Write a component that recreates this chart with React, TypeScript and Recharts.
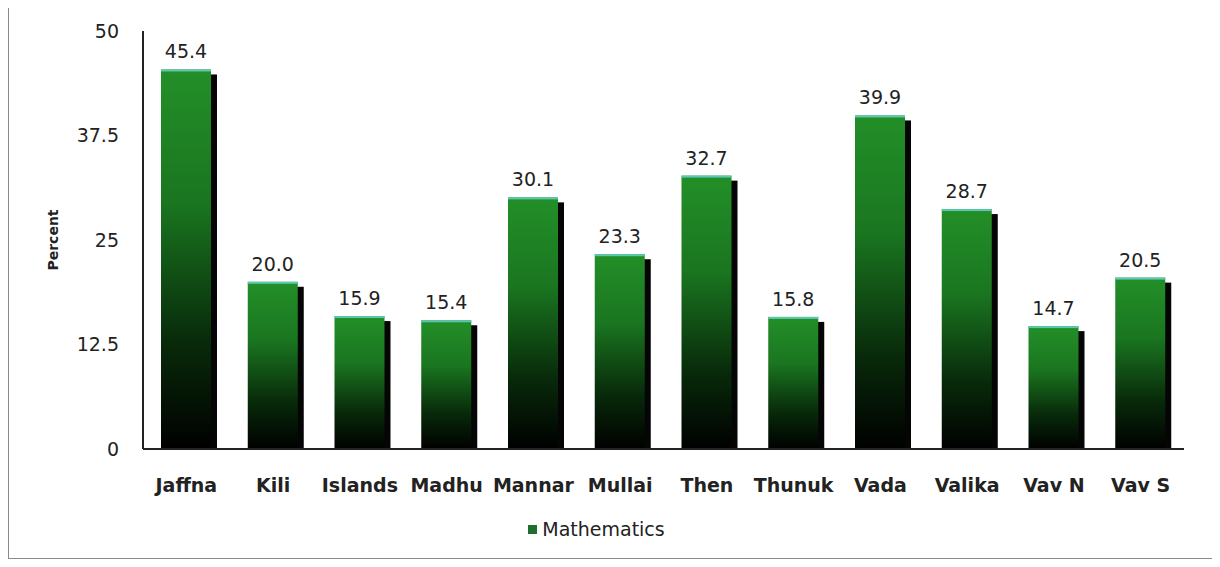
import React from "react";
import { BarChart, Bar, XAxis, YAxis, LabelList, Legend } from "recharts";

const districts = ["Jaffna", "Kili", "Islands", "Madhu", "Mannar", "Mullai", "Then", "Thunuk", "Vada", "Valika", "Vav N", "Vav S"];
const mathematics = [45.4, 20.0, 15.9, 15.4, 30.1, 23.3, 32.7, 15.8, 39.9, 28.7, 14.7, 20.5];
const yTicks = [0, 12.5, 25, 37.5, 50];

const data = districts.map((d, i) => ({ district: d, value: mathematics[i] }));

const FONT = "'DejaVu Sans', Verdana, sans-serif";

const ShadowBar = (props: any) => {
  const { x, y, width, height } = props;
  if (!height || height <= 0) return null;
  return (
    <g>
      <rect x={x + 6} y={y + 5} width={width} height={Math.max(0, height - 5)} fill="#050505" />
      <rect x={x} y={y} width={width} height={height} fill="url(#mathGrad)" />
      <rect x={x} y={y} width={width} height={2} fill="#5cc8b0" />
    </g>
  );
};

const LegendContent = () => (
  <div style={{ height: 40, display: "flex", justifyContent: "center", alignItems: "center", fontFamily: FONT, fontSize: 19, color: "#222" }}>
    <span style={{ display: "inline-block", width: 9, height: 9, background: "#1e6e30", marginRight: 5 }} />
    Mathematics
  </div>
);

export default function App() {
  return (
    <div style={{ width: 1205, height: 552, border: "1px solid #8a8a8a", marginTop: -3, position: "relative", background: "#fff" }}>
      <BarChart
        width={1205}
        height={552}
        data={data}
        margin={{ top: 25, right: 30, left: 0, bottom: 9 }}
        barSize={50}
      >
        <defs>
          <linearGradient id="mathGrad" x1="0" y1="0" x2="0" y2="1">
            <stop offset="0%" stopColor="#238f28" />
            <stop offset="35%" stopColor="#1a7620" />
            <stop offset="72%" stopColor="#082a0a" />
            <stop offset="100%" stopColor="#000000" />
          </linearGradient>
        </defs>
        <XAxis
          dataKey="district"
          height={60}
          tickLine={false}
          tickSize={0}
          tickMargin={30}
          axisLine={{ stroke: "#222", strokeWidth: 2 }}
          tick={{ fontFamily: FONT, fontSize: 19, fontWeight: "bold", fill: "#222" }}
          interval={0}
        />
        <YAxis
          width={134}
          domain={[0, 50]}
          ticks={yTicks}
          tickLine={false}
          tickSize={0}
          tickMargin={24}
          axisLine={{ stroke: "#222", strokeWidth: 2 }}
          tick={{ fontFamily: FONT, fontSize: 19, fill: "#222" }}
          label={{ value: "Percent", angle: -90, position: "insideLeft", offset: 44, style: { fontFamily: FONT, fontSize: 14, fontWeight: "bold", fill: "#222", textAnchor: "middle" } }}
        />
        <Legend verticalAlign="bottom" content={<LegendContent />} />
        <Bar dataKey="value" name="Mathematics" fill="#1e6e30" shape={<ShadowBar />} isAnimationActive={false}>
          <LabelList
            dataKey="value"
            position="top"
            offset={11}
            formatter={(v: any) => Number(v).toFixed(1)}
            style={{ fontFamily: FONT, fontSize: 19, fill: "#222" }}
          />
        </Bar>
      </BarChart>
    </div>
  );
}
